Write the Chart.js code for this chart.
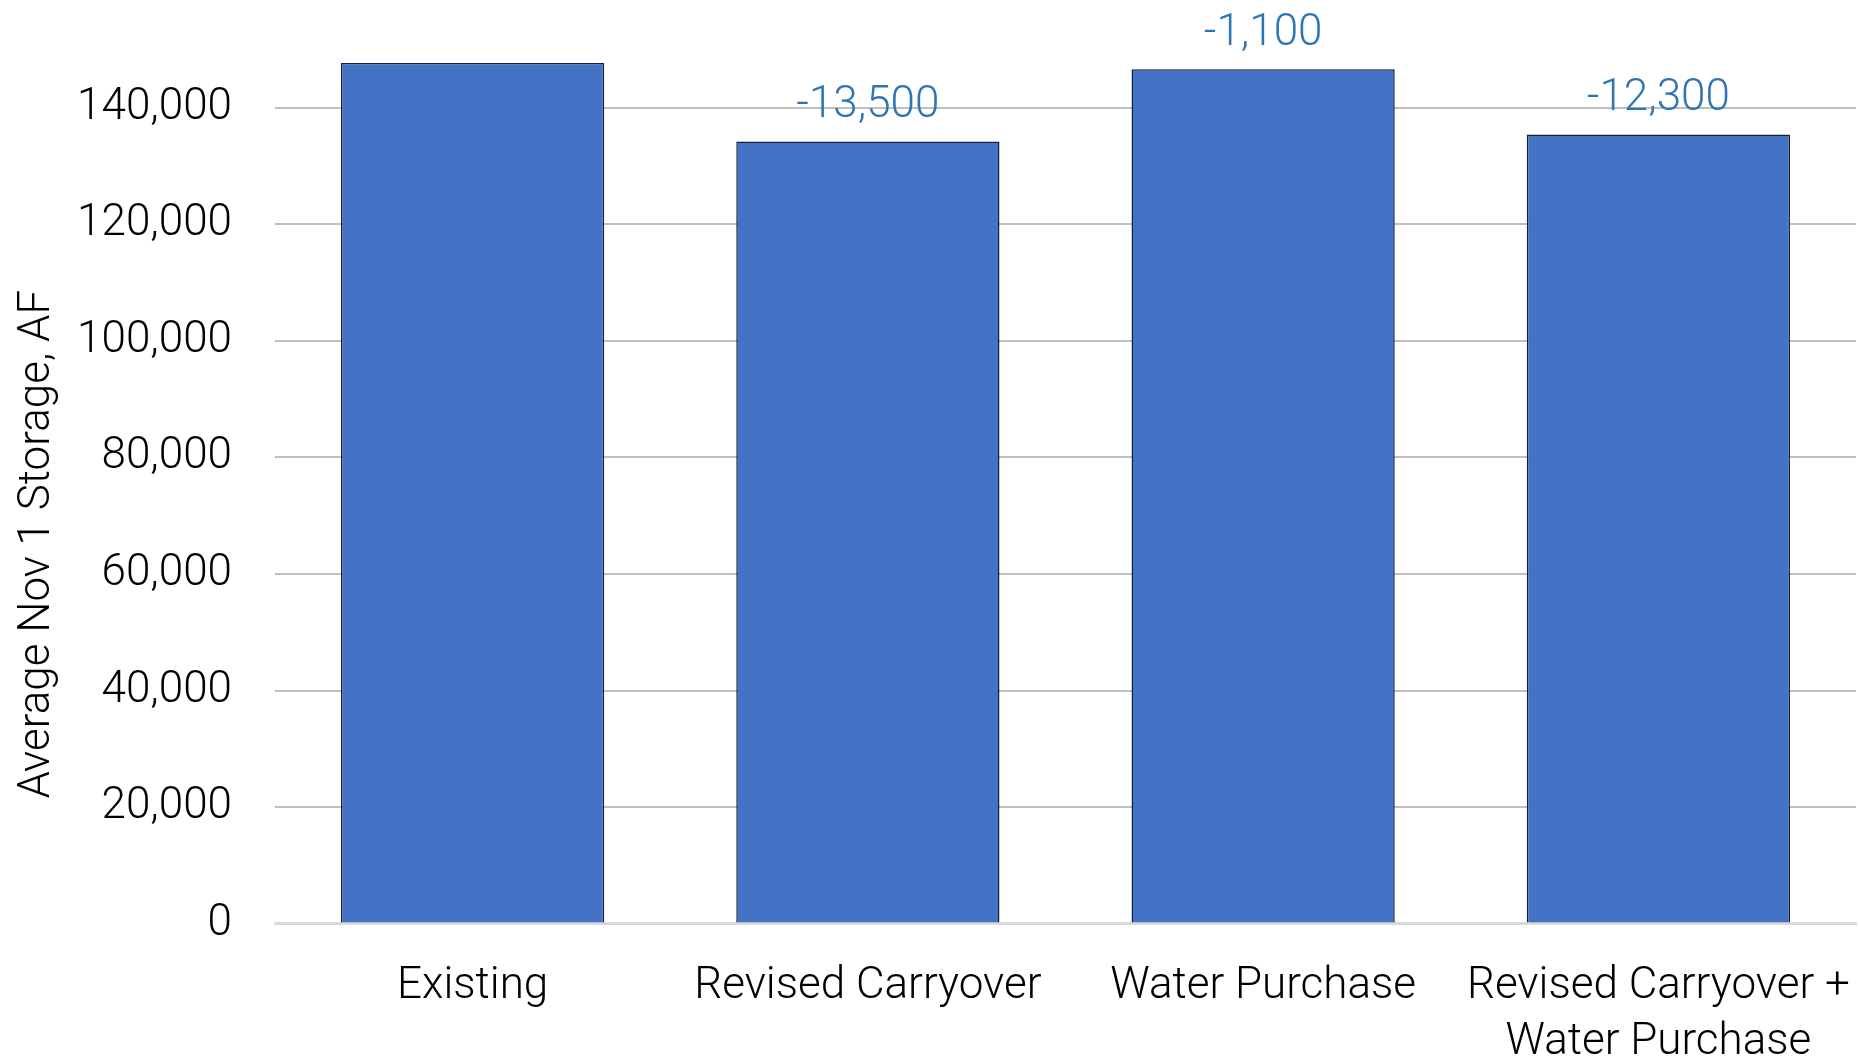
<!DOCTYPE html>
<html>
<head>
<meta charset="utf-8">
<script src="https://cdn.jsdelivr.net/npm/chart.js@4/dist/chart.umd.min.js"></script>
<style>
  html, body { margin: 0; padding: 0; background: #ffffff; }
  #wrap { width: 1859px; height: 1061px; position: relative; }
</style>
</head>
<body>
<div id="wrap"><canvas id="c" width="1859" height="1061"></canvas></div>
<script>
// ---- data ----
const categories = ['Existing', 'Revised Carryover', 'Water Purchase', ['Revised Carryover +', 'Water Purchase']];
const storageValues = [147700, 134200, 146600, 135400];
const changeLabels = [null, -13500, -1100, -12300];
const yTickValues = [0, 20000, 40000, 60000, 80000, 100000, 120000, 140000];
const yAxisTitle = 'Average Nov 1 Storage, AF';

const FONT = "Roboto, 'Open Sans', 'Liberation Sans', sans-serif";
const fmt = v => v.toLocaleString('en-US');

const labelPlugin = {
  id: 'deltaLabels',
  afterDatasetsDraw(chart) {
    const ctx = chart.ctx;
    const meta = chart.getDatasetMeta(0);
    ctx.save();
    ctx.font = '300 44px ' + FONT;
    ctx.fillStyle = '#2E75B6';
    ctx.textAlign = 'center';
    ctx.textBaseline = 'middle';
    meta.data.forEach((bar, i) => {
      const v = changeLabels[i];
      if (v === null || v === undefined) return;
      ctx.fillText(fmt(v), bar.x, bar.y - 35.5);
    });
    ctx.restore();
  },
  afterDraw(chart) {
    const ctx = chart.ctx;
    ctx.save();
    ctx.font = '300 44px ' + FONT;
    ctx.fillStyle = '#000000';
    ctx.textAlign = 'center';
    ctx.textBaseline = 'middle';
    ctx.translate(38, 544);
    ctx.rotate(-Math.PI / 2);
    ctx.fillText(yAxisTitle, 0, 0);
    ctx.restore();
  }
};

new Chart(document.getElementById('c'), {
  type: 'bar',
  data: {
    labels: categories,
    datasets: [{
      data: storageValues,
      backgroundColor: '#4472C4',
      borderColor: '#14213D',
      borderWidth: 1.5,
      borderSkipped: 'bottom',
      categoryPercentage: 0.666,
      barPercentage: 1.0
    }]
  },
  options: {
    responsive: false,
    animation: false,
    devicePixelRatio: 1,
    layout: { padding: { left: 0, right: 3, top: 0, bottom: 0 } },
    plugins: { legend: { display: false }, tooltip: { enabled: false } },
    scales: {
      x: {
        grid: { display: false, drawTicks: false },
        border: { display: true, color: '#D9D9D9', width: 3 },
        ticks: {
          color: '#000000',
          font: { family: FONT, size: 44, weight: '300', lineHeight: 1.28 },
          padding: 35,
          maxRotation: 0,
          autoSkip: false
        },
        afterFit(scale) {
          scale.height = 137.4;
          scale.paddingLeft = 0; scale.paddingRight = 0;
          scale.paddingTop = 0; scale.paddingBottom = 0;
        }
      },
      y: {
        min: 0,
        max: 158500,
        grid: { color: '#BFBFBF', lineWidth: 2, drawTicks: false },
        border: { display: false },
        afterBuildTicks(scale) { scale.ticks = yTickValues.map(v => ({ value: v })); },
        ticks: {
          color: '#000000',
          font: { family: FONT, size: 44, weight: '300' },
          padding: 43,
          callback: v => fmt(v)
        },
        afterFit(scale) {
          scale.width = 275;
          scale.paddingLeft = 0; scale.paddingRight = 0;
          scale.paddingTop = 0; scale.paddingBottom = 0;
        }
      }
    }
  },
  plugins: [labelPlugin]
});
</script>
</body>
</html>
